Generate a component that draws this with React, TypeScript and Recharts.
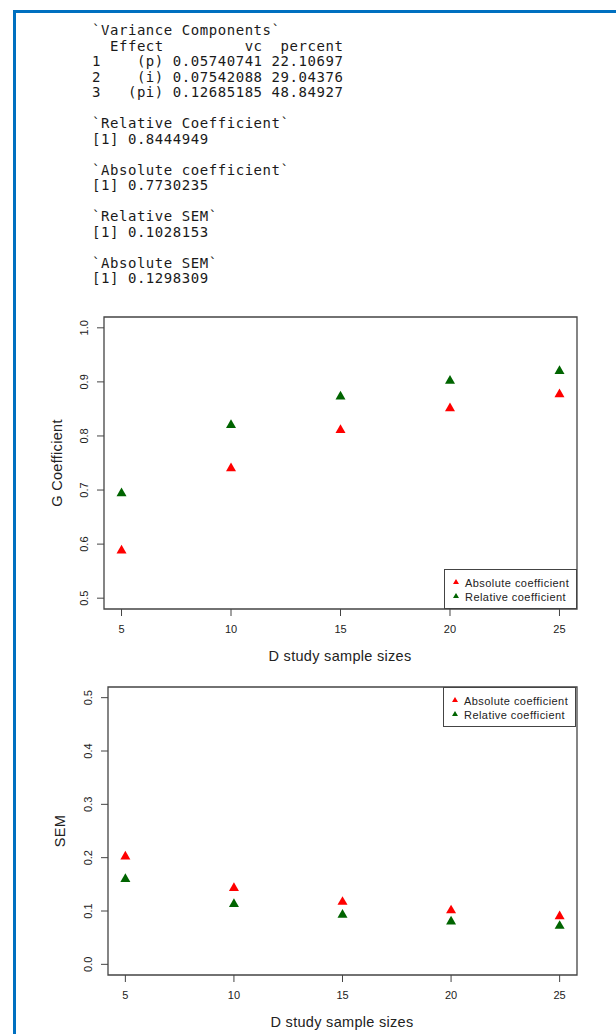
import React from 'react'
import {
  ScatterChart,
  Scatter,
  XAxis,
  YAxis,
  ReferenceArea,
} from 'recharts'

// D study sample sizes and the values
const sampleSizes = [5, 10, 15, 20, 25]
const gAbsolute = [0.588, 0.74, 0.811, 0.851, 0.877]
const gRelative = [0.694, 0.82, 0.873, 0.902, 0.92]
const semAbsolute = [0.202, 0.143, 0.117, 0.101, 0.09]
const semRelative = [0.16, 0.113, 0.093, 0.08, 0.072]

const xTicks = [5, 10, 15, 20, 25]
const gTicks = [0.5, 0.6, 0.7, 0.8, 0.9, 1.0]
const semTicks = [0, 0.1, 0.2, 0.3, 0.4, 0.5]

const consoleLines = [
  '`Variance Components`',
  '  Effect         vc  percent',
  '1    (p) 0.05740741 22.10697',
  '2    (i) 0.07542088 29.04376',
  '3   (pi) 0.12685185 48.84927',
  '',
  '`Relative Coefficient`',
  '[1] 0.8444949',
  '',
  '`Absolute coefficient`',
  '[1] 0.7730235',
  '',
  '`Relative SEM`',
  '[1] 0.1028153',
  '',
  '`Absolute SEM`',
  '[1] 0.1298309',
]

const RED = '#ff0000'
const GREEN = '#006400'
const AXIS = '#444'
const SANS = '"Liberation Sans", Arial, sans-serif'

const toPoints = (ys: number[]) => sampleSizes.map((x, i) => ({ x, y: ys[i] }))

// R pch 17: filled triangle, centroid on the point
const Triangle = (color: string) => (props: any) => {
  const { cx, cy } = props
  const r = 5.8
  const w = 5
  return (
    <polygon
      points={`${cx - w},${cy + r / 2} ${cx + w},${cy + r / 2} ${cx},${cy - r}`}
      fill={color}
    />
  )
}

const XTick = ({ x, y, payload }: any) => (
  <text x={x} y={y} textAnchor="middle" dominantBaseline="central" fontSize={11} fill="#222" fontFamily={SANS}>
    {payload.value}
  </text>
)

const YTick = ({ x, y, payload }: any) => (
  <text
    x={x}
    y={y}
    transform={`rotate(-90, ${x}, ${y})`}
    textAnchor="middle"
    dominantBaseline="central"
    fontSize={11}
    fill="#222"
    fontFamily={SANS}
  >
    {Number(payload.value).toFixed(1)}
  </text>
)

const LegendBox = ({ left, top }: { left: number; top: number }) => (
  <div
    style={{
      position: 'absolute',
      left,
      top,
      width: 133,
      height: 40,
      border: `1px solid ${AXIS}`,
      boxSizing: 'border-box',
      background: '#fff',
      fontFamily: SANS,
      fontSize: 11,
      letterSpacing: 0.45,
      color: '#222',
    }}
  >
    {[
      { label: 'Absolute coefficient', color: RED },
      { label: 'Relative coefficient', color: GREEN },
    ].map((item, i) => (
      <div key={item.label} style={{ position: 'absolute', left: 7, top: 6 + i * 14, height: 14, lineHeight: '14px', whiteSpace: 'nowrap' }}>
        <svg width={8} height={8} style={{ position: 'absolute', left: 0, top: 2 }}>
          <polygon points="1,6 7,6 4,1" fill={item.color} />
        </svg>
        <span style={{ position: 'absolute', left: 13, top: 0 }}>{item.label}</span>
      </div>
    ))}
  </div>
)

interface PlotProps {
  top: number
  height: number
  yWidth: number
  xHeight: number
  yDomain: [number, number]
  yTicks: number[]
  absolute: number[]
  relative: number[]
}

function Plot({ top, height, yWidth, xHeight, yDomain, yTicks, absolute, relative }: PlotProps) {
  return (
    <div style={{ position: 'absolute', left: 0, top }}>
      <ScatterChart width={616} height={height} margin={{ top: 17, right: 616 - 577, left: 0, bottom: 0 }}>
        <XAxis
          type="number"
          dataKey="x"
          domain={[4.2, 25.8]}
          ticks={xTicks}
          allowDataOverflow
          axisLine={false}
          tickLine={{ stroke: AXIS }}
          tickSize={7}
          tickMargin={13}
          height={xHeight}
          tick={<XTick />}
        />
        <YAxis
          type="number"
          dataKey="y"
          domain={yDomain}
          ticks={yTicks}
          allowDataOverflow
          axisLine={false}
          tickLine={{ stroke: AXIS }}
          tickSize={7}
          tickMargin={13}
          width={yWidth}
          tick={<YTick />}
        />
        <ReferenceArea
          x1={4.2}
          x2={25.8}
          y1={yDomain[0]}
          y2={yDomain[1]}
          fill="none"
          stroke={AXIS}
          strokeWidth={1.3}
          ifOverflow="visible"
        />
        <Scatter data={toPoints(absolute)} shape={Triangle(RED)} isAnimationActive={false} />
        <Scatter data={toPoints(relative)} shape={Triangle(GREEN)} isAnimationActive={false} />
      </ScatterChart>
    </div>
  )
}

const titleStyle: React.CSSProperties = {
  position: 'absolute',
  fontFamily: SANS,
  fontSize: 14.5,
  letterSpacing: 0.3,
  color: '#222',
  whiteSpace: 'nowrap',
  lineHeight: '16px',
}

export default function App() {
  return (
    <div style={{ position: 'absolute', left: 0, top: 0, width: 616, height: 1034, background: '#fff', overflow: 'hidden' }}>
      {/* blue frame of the screenshot */}
      <div
        style={{
          position: 'absolute',
          left: 13,
          top: 10,
          width: 700,
          height: 1100,
          borderTop: '3px solid #0070c0',
          borderLeft: '3px solid #0070c0',
        }}
      />

      <pre
        style={{
          position: 'absolute',
          left: 92,
          top: 23,
          margin: 0,
          fontFamily: '"DejaVu Sans Mono", "Liberation Mono", monospace',
          fontSize: 14,
          letterSpacing: 0.55,
          lineHeight: '15.5px',
          color: '#1a1a1a',
        }}
      >
        {consoleLines.join('\n')}
      </pre>

      <Plot
        top={300}
        height={370}
        yWidth={104}
        xHeight={61}
        yDomain={[0.48, 1.02]}
        yTicks={gTicks}
        absolute={gAbsolute}
        relative={gRelative}
      />
      <LegendBox left={444} top={569} />
      <div style={{ ...titleStyle, left: 340, top: 648, transform: 'translateX(-50%)' }}>D study sample sizes</div>
      <div style={{ ...titleStyle, left: 57, top: 463, transform: 'translate(-50%, -50%) rotate(-90deg)' }}>G Coefficient</div>

      <Plot
        top={670}
        height={364}
        yWidth={108}
        xHeight={59}
        yDomain={[-0.02, 0.52]}
        yTicks={semTicks}
        absolute={semAbsolute}
        relative={semRelative}
      />
      <LegendBox left={443} top={687} />
      <div style={{ ...titleStyle, left: 342, top: 1014, transform: 'translateX(-50%)' }}>D study sample sizes</div>
      <div style={{ ...titleStyle, left: 60, top: 831, transform: 'translate(-50%, -50%) rotate(-90deg)' }}>SEM</div>
    </div>
  )
}
